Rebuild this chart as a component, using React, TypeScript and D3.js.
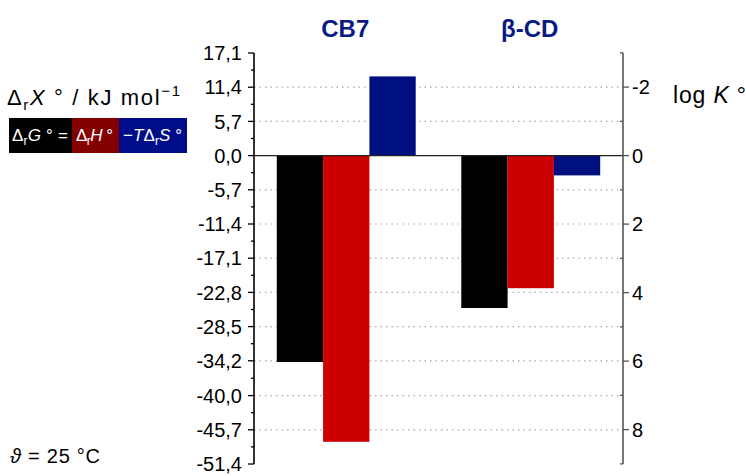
import React from "react";
import * as d3 from "d3";

const categories = ["CB7", "β-CD"];
const seriesKeys = ["dG", "dH", "mTdS"];
const dG = [-34.4, -25.4];
const dH = [-47.7, -22.1];
const mTdS = [13.2, -3.3];
const leftTickValues = [17.1, 11.4, 5.7, 0.0, -5.7, -11.4, -17.1, -22.8, -28.5, -34.2, -40.0, -45.7, -51.4];
const leftTickLabels = ["17,1", "11,4", "5,7", "0,0", "-5,7", "-11,4", "-17,1", "-22,8", "-28,5", "-34,2", "-40,0", "-45,7", "-51,4"];
const rightTickValues = [-3, -2, -1, 0, 1, 2, 3, 4, 5, 6, 7, 8, 9];
const rightTickLabels = ["", "-2", "", "0", "", "2", "", "4", "", "6", "", "8", ""];
const RTLN10 = 5.7089;

const barColors = ["#000000", "#cc0000", "#000f80"];
const FONT = "'Liberation Sans', Arial, sans-serif";

export default function App() {
  const W = 746, H = 476;
  const x0 = 254, x1 = 623;
  const y = d3.scaleLinear().domain([-51.4, 17.1]).range([464, 53]);
  const yR = (k: number) => y(-k * RTLN10);
  const xb = d3.scaleBand<string>().domain(categories).range([x0, x1]).paddingInner(0.247).paddingOuter(0.1235);
  const xs = d3.scaleBand<string>().domain(seriesKeys).range([0, xb.bandwidth()]);
  const values: Record<string, number[]> = { dG, dH, mTdS };

  const minorLeft: number[] = [];
  for (let i = 0; i < leftTickValues.length - 1; i++) {
    minorLeft.push((leftTickValues[i] + leftTickValues[i + 1]) / 2);
  }

  return (
    <svg width={W} height={H} style={{ position: "absolute", left: 0, top: 0, fontFamily: FONT }}>
      <rect x={0} y={0} width={W} height={H} fill="#fff" />
      {/* grid */}
      {leftTickValues.slice(1, -1).filter((v) => v !== 0).map((v, i) => (
        <line key={"g" + i} x1={x0} x2={x1} y1={y(v)} y2={y(v)} stroke="#aaa" strokeWidth={1.2} strokeDasharray="1.5 4" />
      ))}
      {/* bars */}
      {categories.map((c, ci) => (
        <g key={c}>
          {seriesKeys.map((s, si) => {
            const v = values[s][ci];
            const bx = (xb(c) as number) + (xs(s) as number);
            return (
              <rect key={s} x={bx} width={xs.bandwidth()} y={Math.min(y(v), y(0))} height={Math.abs(y(v) - y(0))} fill={barColors[si]} />
            );
          })}
          <text x={(xb(c) as number) + xb.bandwidth() / 2 - 1} y={37} textAnchor="middle" fontSize={24} fontWeight="bold" fill="#0a1a85">{c}</text>
        </g>
      ))}
      {/* zero line */}
      <line x1={x0} x2={x1} y1={y(0)} y2={y(0)} stroke="#222" strokeWidth={1.3} />
      {/* left axis */}
      <line x1={x0} x2={x0} y1={y(17.1)} y2={y(-51.4)} stroke="#000" strokeWidth={1.6} />
      {leftTickValues.map((v, i) => (
        <g key={"lt" + i}>
          <line x1={x0 - 6} x2={x0} y1={y(v)} y2={y(v)} stroke="#000" strokeWidth={1.3} />
          <text x={x0 - 12} y={y(v)} dy="0.36em" textAnchor="end" fontSize={20} fill="#000">{leftTickLabels[i]}</text>
        </g>
      ))}
      {minorLeft.map((v, i) => (
        <line key={"lm" + i} x1={x0 - 3} x2={x0} y1={y(v)} y2={y(v)} stroke="#000" strokeWidth={1.3} />
      ))}
      {/* right axis */}
      <line x1={x1} x2={x1} y1={yR(-3)} y2={yR(9)} stroke="#555" strokeWidth={1.6} />
      {rightTickValues.map((k, i) => {
        const major = rightTickLabels[i] !== "";
        return (
          <g key={"rt" + i}>
            {major ? (
              <line x1={x1} x2={x1 + 6} y1={yR(k)} y2={yR(k)} stroke="#555" strokeWidth={1.3} />
            ) : (
              <line x1={x1 - 3} x2={x1} y1={yR(k)} y2={yR(k)} stroke="#555" strokeWidth={1.3} />
            )}
            {major && (
              <text x={x1 + 9} y={yR(k)} dy="0.36em" fontSize={20} fill="#000">{rightTickLabels[i]}</text>
            )}
          </g>
        );
      })}
      <text x={673} y={103} fontSize={23} fill="#000" textLength={73} lengthAdjust="spacing">
        log <tspan fontStyle="italic">K</tspan> °
      </text>
      {/* left title */}
      <text x={7} y={105} fontSize={22} fill="#000" textLength={173} lengthAdjust="spacing">
        Δ<tspan fontSize={15} dy={5}>r</tspan>
        <tspan dy={-5} fontStyle="italic">X</tspan>
        <tspan> ° / kJ mol</tspan>
        <tspan fontSize={15} dy={-9}>−1</tspan>
      </text>
      {/* legend */}
      <rect x={9} y={118} width={63} height={35} fill="#000" />
      <rect x={72} y={118} width={47} height={35} fill="#840000" />
      <rect x={119} y={118} width={68} height={35} fill="#000d88" />
      <text x={12} y={141} fontSize={17} fill="#fff" textLength={56} lengthAdjust="spacing">
        Δ<tspan fontSize={12} dy={4}>r</tspan><tspan dy={-4} fontStyle="italic">G</tspan> ° =
      </text>
      <text x={76} y={141} fontSize={17} fill="#fff" textLength={37} lengthAdjust="spacing">
        Δ<tspan fontSize={12} dy={4}>r</tspan><tspan dy={-4} fontStyle="italic">H</tspan> °
      </text>
      <text x={123} y={141} fontSize={17} fill="#fff" textLength={59} lengthAdjust="spacing">
        −<tspan fontStyle="italic">T</tspan>Δ<tspan fontSize={12} dy={4}>r</tspan><tspan dy={-4} fontStyle="italic">S</tspan> °
      </text>
      {/* temperature */}
      <text x={10} y={463} fontSize={20} fill="#000" textLength={90} lengthAdjust="spacing">
        <tspan fontStyle="italic">ϑ</tspan> = 25 °C
      </text>
    </svg>
  );
}
